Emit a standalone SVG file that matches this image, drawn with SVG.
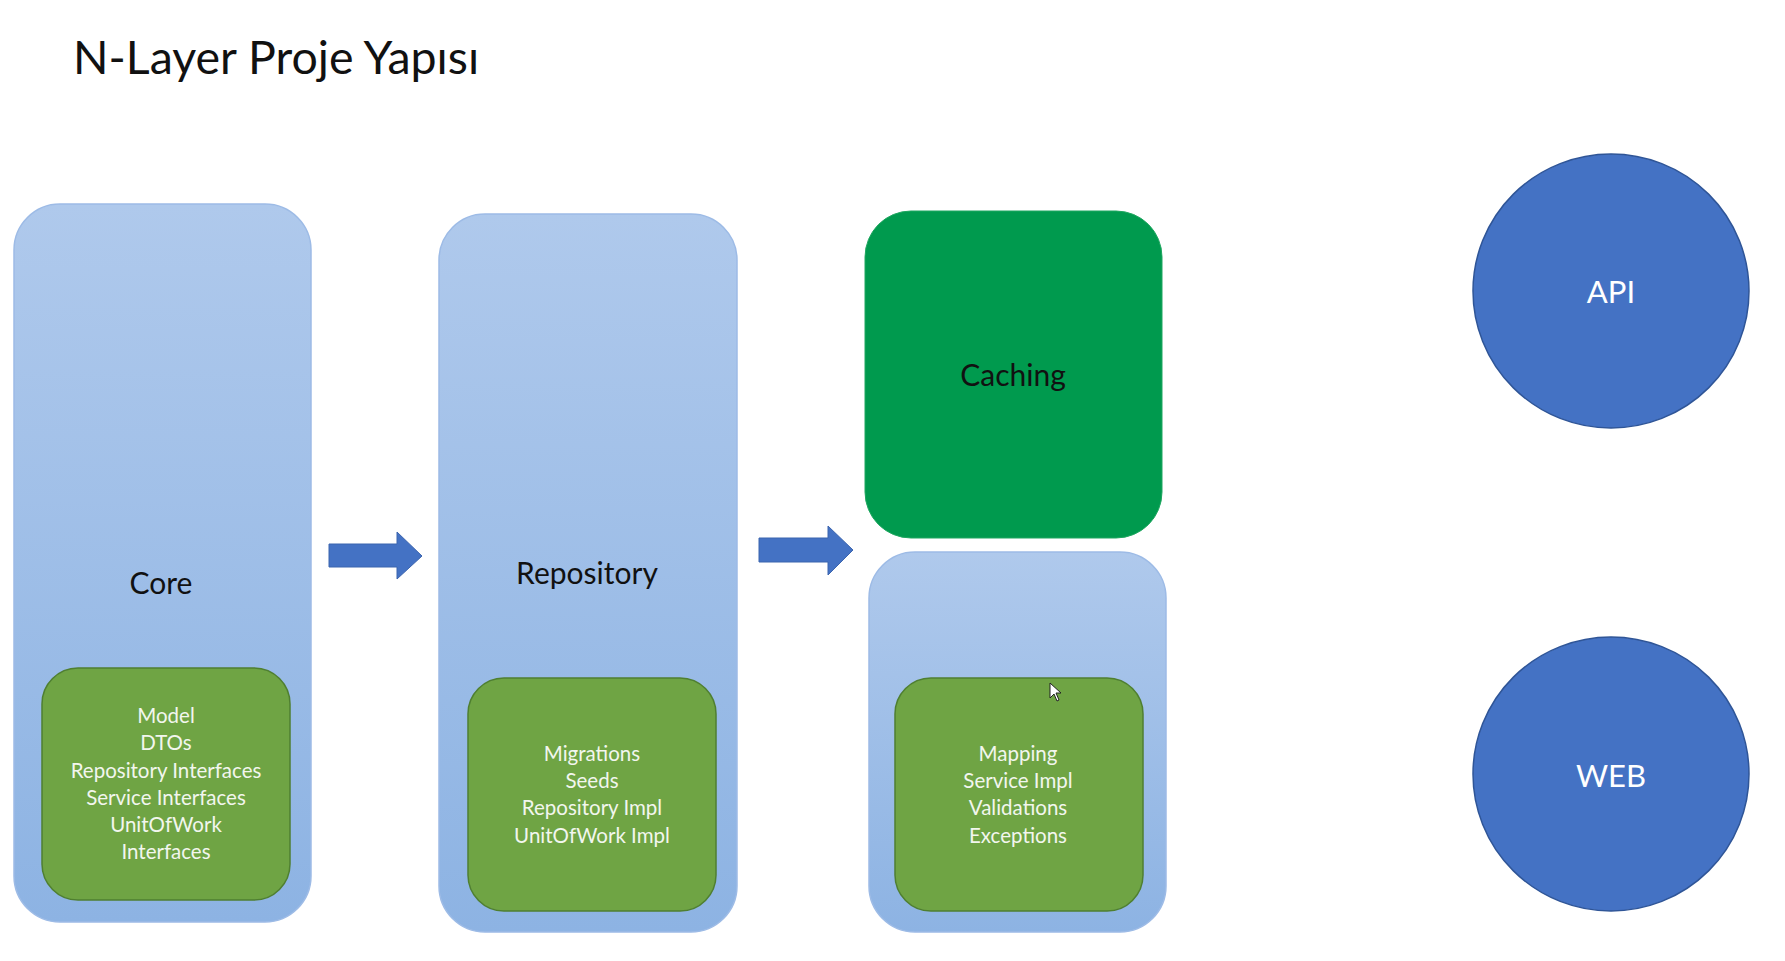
<svg xmlns="http://www.w3.org/2000/svg" width="1785" height="961" viewBox="0 0 1785 961">
<defs>
<linearGradient id="blueGrad" x1="0" y1="0" x2="0" y2="1">
<stop offset="0" stop-color="#AFC9EC"/>
<stop offset="1" stop-color="#8DB3E3"/>
</linearGradient>
<style>
.outer{fill:url(#blueGrad);stroke:#9DBBE6;stroke-width:1.5}
.inner{fill:#6FA444;stroke:#4F7F30;stroke-width:1.5}
.label{font-family:Lato,"Liberation Sans",sans-serif;fill:#111;text-anchor:middle}
.item{font-family:Lato,"Liberation Sans",sans-serif;fill:#F2F6EE;text-anchor:middle;font-size:20.5px}
.circ{fill:#4472C4;stroke:#2F5597;stroke-width:1.5}
.ctext{font-family:Lato,"Liberation Sans",sans-serif;fill:#FFFFFF;text-anchor:middle;font-size:31px}
.arrow{fill:#4472C4;stroke:#3B64AE;stroke-width:1}
</style>
</defs>
<rect width="1785" height="961" fill="#FFFFFF"/>
<text x="73" y="74" font-family="Lato,'Liberation Sans',sans-serif" font-size="46.5" fill="#111">N-Layer Proje Yapısı</text>

<g id="core">
<rect class="outer" x="14" y="204" width="297" height="718" rx="46"/>
<text class="label" x="161" y="594" font-size="30">Core</text>
<rect class="inner" x="42" y="668" width="248" height="232" rx="36"/>
<text class="item" x="166" y="723">Model</text>
<text class="item" x="166" y="750">DTOs</text>
<text class="item" x="166" y="778">Repository Interfaces</text>
<text class="item" x="166" y="805">Service Interfaces</text>
<text class="item" x="166" y="832">UnitOfWork</text>
<text class="item" x="166" y="859">Interfaces</text>
</g>

<g id="repository">
<rect class="outer" x="439" y="214" width="298" height="718" rx="46"/>
<text class="label" x="587" y="584" font-size="30">Repository</text>
<rect class="inner" x="468" y="678" width="248" height="233" rx="36"/>
<text class="item" x="592" y="761">Migrations</text>
<text class="item" x="592" y="788">Seeds</text>
<text class="item" x="592" y="815">Repository Impl</text>
<text class="item" x="592" y="843">UnitOfWork Impl</text>
</g>

<g id="caching">
<rect x="865" y="211" width="297" height="327" rx="46" fill="#009A4E" stroke="#1FA760" stroke-width="1"/>
<text class="label" x="1013" y="386" font-size="30">Caching</text>
</g>

<g id="service">
<rect class="outer" x="869" y="552" width="297" height="380" rx="46"/>
<rect class="inner" x="895" y="678" width="248" height="233" rx="36"/>
<text class="item" x="1018" y="761">Mapping</text>
<text class="item" x="1018" y="788">Service Impl</text>
<text class="item" x="1018" y="815">Validations</text>
<text class="item" x="1018" y="843">Exceptions</text>
<path d="M1050 683 L1050 698 L1054 694 L1057 701 L1059 700 L1056 693 L1061 693 Z" fill="#FFFFFF" stroke="#222" stroke-width="1"/>
</g>

<g id="api">
<ellipse class="circ" cx="1611" cy="291" rx="138" ry="137"/>
<text class="ctext" x="1611" y="303">API</text>
</g>

<g id="web">
<ellipse class="circ" cx="1611" cy="774" rx="138" ry="137"/>
<text class="ctext" x="1611" y="787">WEB</text>
</g>

<g id="connectors">
<path class="arrow" d="M329 544 L397 544 L397 532 L422 556 L397 579 L397 567 L329 567 Z"/>
<path class="arrow" d="M759 538 L828 538 L828 526 L853 550 L828 575 L828 562 L759 562 Z"/>
</g>
</svg>
